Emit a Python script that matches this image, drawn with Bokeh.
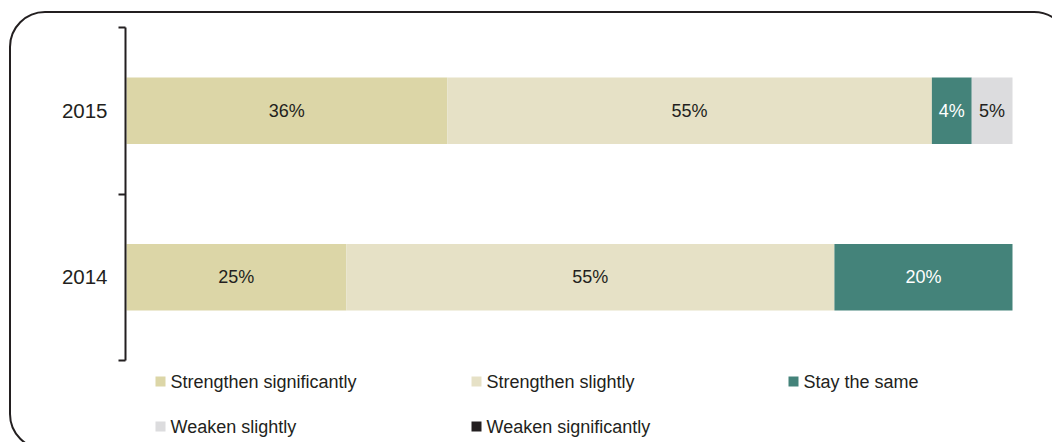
from bokeh.plotting import figure
from bokeh.models import ColumnDataSource, Range1d, FixedTicker, InlineStyleSheet
from bokeh.core.properties import value
from bokeh.embed import file_html
from bokeh.resources import INLINE

# ---- data ----
years = ["2014", "2015"]
series = ["Strengthen significantly", "Strengthen slightly", "Stay the same",
          "Weaken slightly", "Weaken significantly"]
strengthen_significantly = [24.8, 36.2]
strengthen_slightly = [55.1, 54.7]
stay_the_same = [20.1, 4.5]
weaken_slightly = [0.0, 4.6]
weaken_significantly = [0.0, 0.0]
colors = ["#dcd6a7", "#e6e1c6", "#44837a", "#dcdcde", "#231f20"]
label_colors = ["#231f20", "#231f20", "#ffffff", "#231f20", "#ffffff"]

values = [strengthen_significantly, strengthen_slightly, stay_the_same,
          weaken_slightly, weaken_significantly]

FONT = "Liberation Sans"
DARK = "#231f20"

W, H = 1052, 442
LEFT = 125
PX_PER_UNIT = 8.86          # horizontal scale (px per percent)
Y_PX_PER_UNIT = 166.5       # vertical scale (px per category band)
Y_TOP_PX = 27               # pixel position of the top of the category bands
Y_BOTTOM_PX = 360           # pixel position of the bottom of the category bands

x0 = -1 / PX_PER_UNIT
x1 = (W - LEFT - 1) / PX_PER_UNIT
y1 = len(years) + Y_TOP_PX / Y_PX_PER_UNIT
y0 = -(H - Y_BOTTOM_PX) / Y_PX_PER_UNIT

p = figure(width=W, height=H, output_backend="svg", toolbar_location=None,
           x_range=Range1d(x0, x1), y_range=Range1d(y0, y1),
           x_axis_location=None, min_border_left=LEFT, min_border_right=0,
           min_border_top=0, min_border_bottom=0)
p.outline_line_color = None
p.grid.visible = False
p.background_fill_color = "white"
p.border_fill_color = "white"

ypos = [i + 0.5 for i in range(len(years))]

# ---- stacked bars ----
left = [0.0] * len(years)
for name, vals, col, lcol in zip(series, values, colors, label_colors):
    right = [l + v for l, v in zip(left, vals)]
    mid = [(l + r) / 2 for l, r in zip(left, right)]
    src = ColumnDataSource(dict(y=ypos, left=left, right=right))
    p.hbar(y="y", left="left", right="right", height=0.4, source=src,
           fill_color=col, line_color=None)
    # labels only for non-zero segments
    idx = [i for i, v in enumerate(vals) if v > 0]
    lsrc = ColumnDataSource(dict(x=[mid[i] for i in idx],
                                 y=[ypos[i] for i in idx],
                                 t=[f"{vals[i]:.0f}%" for i in idx]))
    p.text(x="x", y="y", text="t", source=lsrc, text_align="center",
           text_baseline="middle", text_font=value(FONT),
           text_font_size="18px", text_color=lcol)
    left = right

# ---- y axis (bracket style) ----
ax = p.yaxis[0]
ax.ticker = FixedTicker(ticks=ypos, minor_ticks=list(range(len(years) + 1)))
ax.bounds = (0, len(years))
ax.major_label_overrides = {y: t for y, t in zip(ypos, years)}
ax.major_tick_line_color = None
ax.major_tick_out = 0
ax.major_tick_in = 0
ax.minor_tick_line_color = DARK
ax.minor_tick_line_width = 2
ax.minor_tick_out = 7
ax.minor_tick_in = 0
ax.axis_line_color = DARK
ax.axis_line_width = 2
ax.major_label_standoff = 11
ax.major_label_text_font = FONT
ax.major_label_text_font_size = "20.5px"
ax.major_label_text_color = DARK

# ---- legend (drawn in data space below the bars) ----
def px_to_x(px):
    return (px - LEFT - 1) / PX_PER_UNIT

def py_to_y(py):
    return (Y_BOTTOM_PX - py) / Y_PX_PER_UNIT

col_px = [160, 476, 793]
row_px = [381, 426]
lx, ly, tx = [], [], []
for i, name in enumerate(series):
    r, c = divmod(i, 3)
    lx.append(px_to_x(col_px[c]))
    ly.append(py_to_y(row_px[r]))
    tx.append(px_to_x(col_px[c] + 10))
leg = ColumnDataSource(dict(x=lx, y=ly, tx=tx, c=colors, name=series))
p.scatter(x="x", y="y", source=leg, marker="square", size=10,
          fill_color="c", line_color=None)
p.text(x="tx", y="y", text="name", source=leg, text_align="left",
       text_baseline="middle", text_font=value(FONT), text_font_size="18px",
       text_color=DARK)

# ---- rounded outer frame (page decoration) ----
frame_css = InlineStyleSheet(css="""
:host { position: relative; overflow: hidden; }
:host::after {
  content: "";
  position: absolute;
  left: 9px; top: 11px;
  width: 1061px; height: 439px;
  box-sizing: border-box;
  border: 2.5px solid #231f20;
  border-radius: 36px;
  pointer-events: none;
  z-index: 100;
}
""")
p.stylesheets = [frame_css]

open("out.html", "w").write(file_html(p, INLINE))
